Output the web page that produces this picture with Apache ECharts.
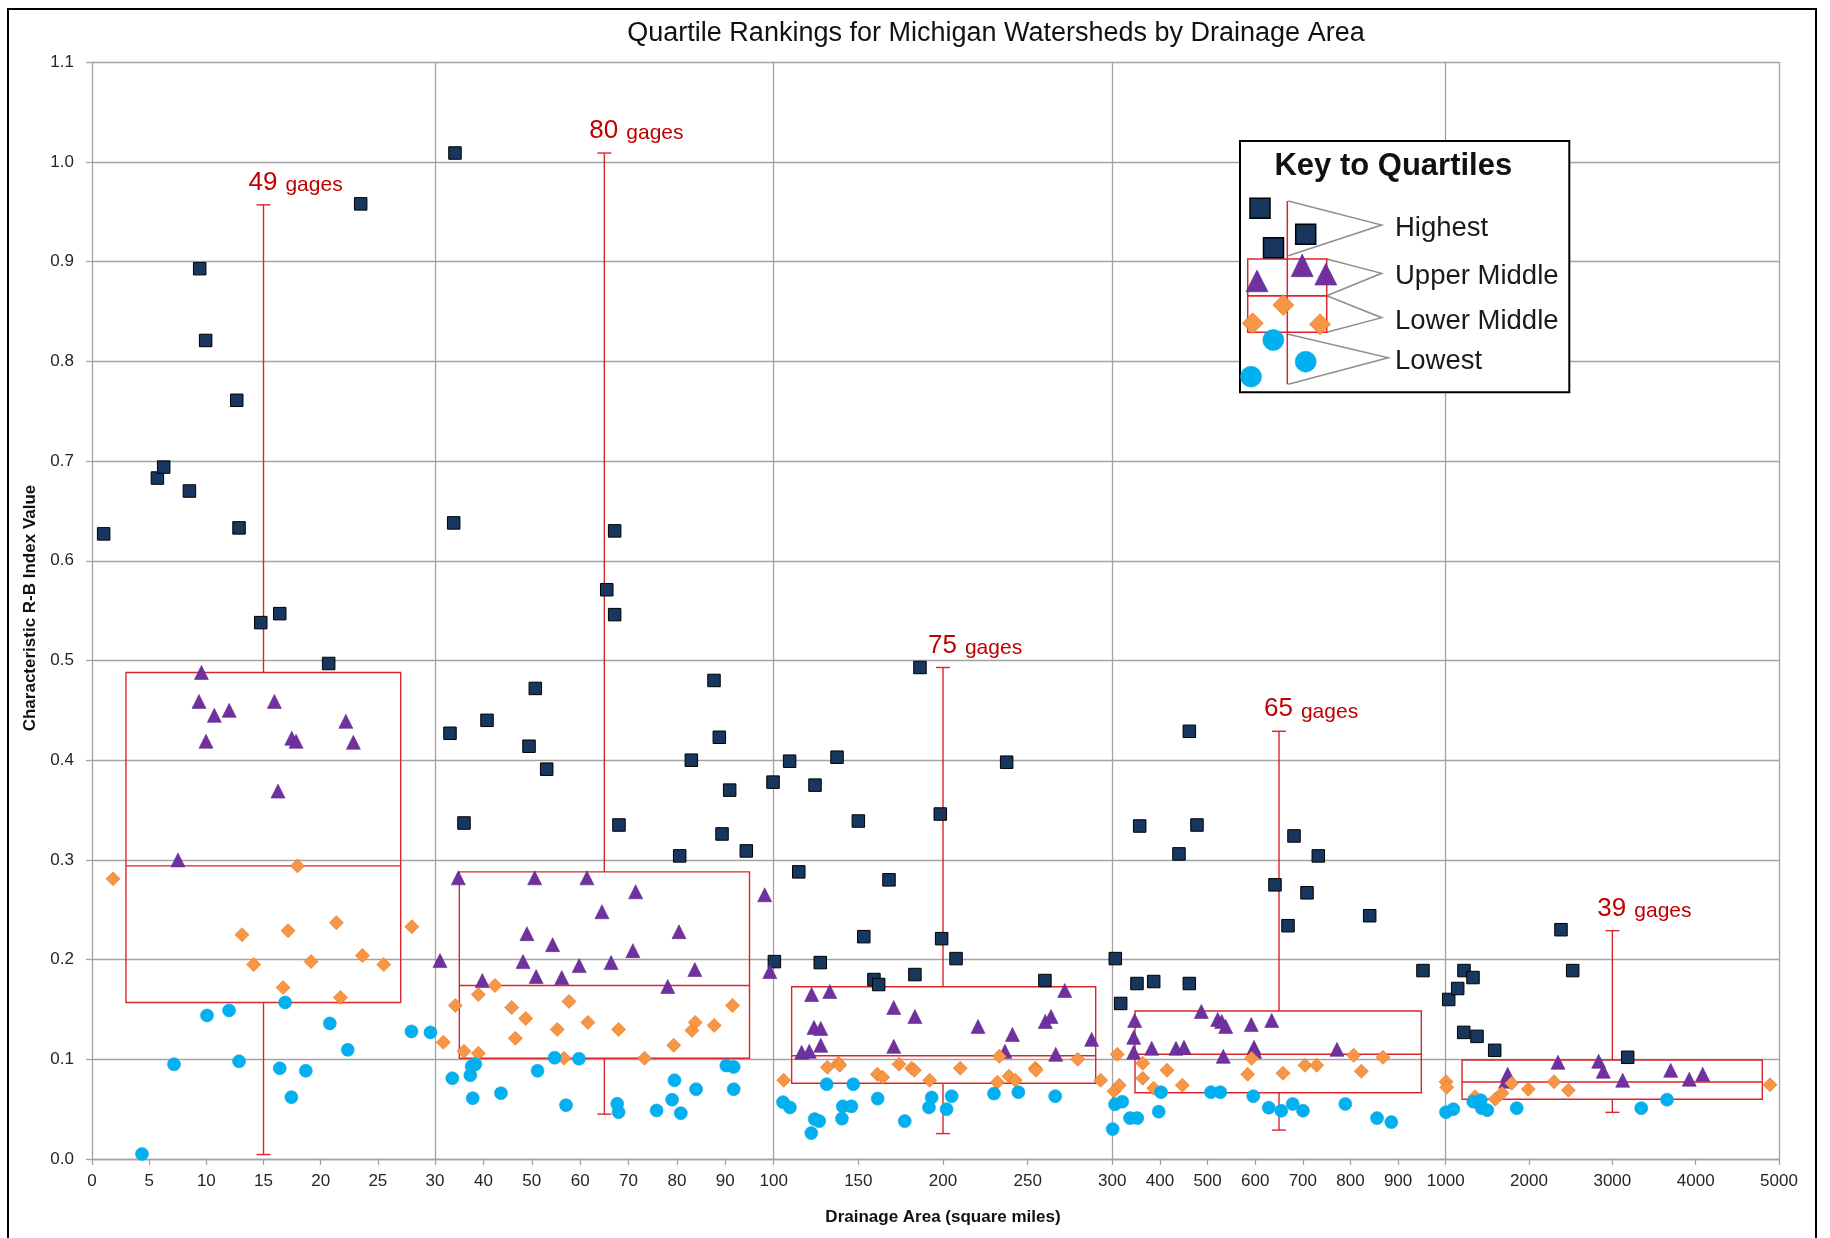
<!DOCTYPE html>
<html><head><meta charset="utf-8">
<script src="https://cdn.jsdelivr.net/npm/echarts@6/dist/echarts.min.js"></script>
<style>html,body{margin:0;padding:0;background:#fff}#chart{width:1830px;height:1238px}</style>
</head><body><div id="chart"></div>
<script>
// ---- Data (drainage area in square miles, R-B index value) ----
const highest = [
  [1.02,0.627],[5.72,0.683],[6.27,0.694],[8.52,0.670],[9.42,0.893],[9.94,0.821],[12.66,0.761],[12.86,0.633],[14.76,0.538],[16.42,0.547],[20.7,0.497],[23.5,0.958],
  [33.1,0.427],[33.86,0.638],[34.13,1.009],[35.99,0.337],[40.75,0.440],[49.43,0.414],[50.73,0.472],[53.08,0.391],[65.5,0.571],[67.13,0.546],[67.13,0.630],[68.02,0.335],[80.57,0.304],[82.98,0.400],[87.66,0.480],[88.76,0.423],[89.32,0.326],[90.9,0.370],[94.34,0.309],[99.86,0.378],
  [100.4,0.198],[109.4,0.399],[114.8,0.288],[124.4,0.375],[127.5,0.197],[137.4,0.403],[150.0,0.339],[153.2,0.223],[159.2,0.180],[162.0,0.175],[168.1,0.280],[183.4,0.185],[186.4,0.493],[198.4,0.346],[199.2,0.221],[207.7,0.201],[237.6,0.398],[260.2,0.179],
  [306.3,0.201],[317.6,0.156],[351.8,0.176],[357.5,0.334],[386.9,0.178],[440,0.306],[461.7,0.429],[461.7,0.176],[477.8,0.335],[641.6,0.275],[668.9,0.234],[681.5,0.324],[708.8,0.267],[732.5,0.304],[840.4,0.244],[952.3,0.189],
  [1036,0.160],[1144,0.171],[1216,0.127],[1219.6,0.189],[1327.6,0.182],[1375.6,0.123],[1588,0.109],[2383.6,0.230],[2524,0.189],[3184,0.102]
];
const upperMiddle = [
  [7.52,0.300],[9.36,0.459],[9.57,0.488],[9.97,0.419],[10.7,0.445],[12.0,0.450],[15.95,0.459],[16.27,0.369],[17.47,0.422],[17.85,0.419],[22.2,0.439],[22.86,0.418],
  [31.03,0.199],[34.82,0.282],[39.78,0.179],[48.2,0.198],[49.0,0.226],[50.6,0.282],[50.9,0.183],[54.3,0.215],[56.2,0.182],[59.8,0.194],[61.4,0.282],[64.5,0.248],[66.4,0.197],[70.9,0.209],[71.47,0.268],[78.1,0.173],[80.43,0.228],[83.7,0.190],[98.14,0.265],[99.2,0.188],
  [116.5,0.107],[121.0,0.108],[122.4,0.165],[123.8,0.132],[127.8,0.131],[127.8,0.114],[133.1,0.168],[170.9,0.152],[170.9,0.113],[183.4,0.143],[220.7,0.133],[236.6,0.108],[241.0,0.125],[260.4,0.138],[263.8,0.143],[266.6,0.105],[271.9,0.169],[287.8,0.120],
  [344.9,0.122],[344.9,0.107],[347.0,0.139],[382.7,0.111],[433.7,0.111],[450.5,0.112],[486.9,0.148],[521.3,0.140],[529.7,0.138],[533.0,0.103],[538.1,0.133],[591.8,0.135],[597.5,0.112],[599.0,0.108],[634.7,0.139],[771.8,0.110],
  [1720,0.078],[1744,0.085],[2347.6,0.097],[2836,0.098],[2891,0.088],[3124,0.079],[3700,0.089],[3923,0.080],[4084,0.085]
];
const lowerMiddle = [
  [1.84,0.281],[13.12,0.225],[14.14,0.195],[16.71,0.172],[17.15,0.229],[17.97,0.294],[19.16,0.198],[21.38,0.237],[21.73,0.162],[23.65,0.204],[25.52,0.195],[27.97,0.233],
  [31.72,0.117],[34.2,0.154],[35.99,0.108],[38.95,0.165],[38.95,0.106],[42.4,0.174],[45.85,0.152],[46.6,0.121],[48.74,0.141],[55.26,0.130],[56.66,0.101],[57.7,0.158],[61.6,0.137],[67.94,0.130],[73.3,0.101],[79.34,0.114],[83.1,0.129],[83.77,0.137],[87.7,0.134],[91.5,0.154],
  [105.9,0.079],[131.7,0.092],[138.2,0.096],[139.0,0.094],[161.2,0.085],[164.4,0.082],[174.0,0.095],[181.5,0.091],[183.1,0.089],[192.1,0.079],[210.2,0.091],[232.1,0.077],[233.3,0.103],[239.0,0.083],[242.7,0.079],[254.5,0.091],[254.9,0.089],[279.6,0.100],[293.1,0.079],
  [303.6,0.068],[310.5,0.105],[314.7,0.074],[363.8,0.096],[363.8,0.081],[386.9,0.071],[414.8,0.089],[447.0,0.074],[584.3,0.085],[592.6,0.101],[658.4,0.086],[704.6,0.094],[729.1,0.094],[806.8,0.104],[822.8,0.088],[868.4,0.102],
  [1004,0.0775],[1012,0.072],[1352,0.0625],[1595,0.060],[1676,0.066],[1792,0.076],[1991,0.070],[2300,0.0775],[2472,0.069],[4892,0.0745]
];
const lowest = [
  [4.37,0.005],[7.17,0.095],[10.06,0.144],[11.99,0.149],[12.86,0.098],[16.42,0.091],[16.89,0.157],[17.44,0.062],[18.7,0.0885],[20.8,0.136],[22.37,0.1095],[27.94,0.128],[29.6,0.127],
  [33.58,0.081],[37.3,0.084],[37.58,0.093],[37.8,0.061],[38.33,0.095],[43.64,0.066],[51.2,0.0885],[54.73,0.1016],[57.08,0.054],[59.75,0.1006],[67.66,0.0554],[67.94,0.047],[75.8,0.0487],[79.0,0.0595],[79.5,0.079],[80.8,0.046],[83.96,0.070],[90.2,0.0937],[91.73,0.0923],[91.73,0.070],
  [105.5,0.057],[109.6,0.0517],[122.2,0.026],[124.2,0.040],[126.9,0.038],[131.3,0.075],[140.3,0.0405],[140.8,0.0528],[145.9,0.0528],[147.0,0.075],[161.4,0.0606],[177.4,0.038],[191.7,0.0517],[193.3,0.0617],[202.1,0.050],[205.1,0.063],[230.1,0.0656],[244.5,0.067],[266.3,0.063],
  [300.8,0.030],[305.7,0.0548],[321.0,0.0575],[337.2,0.041],[352.5,0.041],[397.4,0.0475],[402.2,0.067],[507.2,0.067],[526.8,0.067],[596.0,0.063],[628.4,0.0515],[654.8,0.0484],[678.8,0.0552],[700.4,0.0484],[789.2,0.0552],[855.8,0.041],[885.8,0.037],
  [1004,0.047],[1091,0.050],[1331,0.0575],[1420,0.059],[1432,0.051],[1499,0.049],[1852,0.051],[3347,0.051],[3656,0.0595]
];
// x-axis segments (each drawn as its own linear scale)
const segMin = [0, 30, 100, 300, 1000];
const segMax = [30, 100, 300, 1000, 5000];
const segInterval = [5, 10, 50, 100, 1000];
// group summaries (boxes & whiskers)
const boxLeft   = [2.97, 35.03, 110.6, 347.7, 1196];
const boxRight  = [27.0, 95.0, 290.2, 948.8, 4799];
const boxQ1     = [0.157, 0.101, 0.076, 0.0665, 0.060];
const boxMedian = [0.294, 0.174, 0.1036, 0.105, 0.0772];
const boxQ3     = [0.488, 0.288, 0.1727, 0.1484, 0.0993];
const whiskerX   = [15, 65, 200, 650, 3000];
const whiskerMin = [0.0045, 0.045, 0.0255, 0.029, 0.0468];
const whiskerMax = [0.957, 1.009, 0.493, 0.429, 0.229];
const gageCounts = [49, 80, 75, 65, 39];
const quartileNames = ['Highest', 'Upper Middle', 'Lower Middle', 'Lowest'];

// ---- Layout / style ----
const gridLeft  = [92, 435, 773.7, 1112.3, 1445.7];
const gridRight = [435, 773.7, 1112.3, 1445.7, 1779];
const AXIS = '#a3a3a3', LABEL = '#262626', RED = '#D9262B', REDTXT = '#C00000';
const FONT = "'Liberation Sans', Arial, sans-serif";
const styles = [
  {symbol:'rect', size:12.5, color:'#17375E', border:'#000000', bw:1},
  {symbol:'triangle', size:14, color:'#7030A0', border:'#5e2889', bw:0.6},
  {symbol:'diamond', size:14, color:'#F79646', border:'#E46C0A', bw:0.6},
  {symbol:'circle', size:13, color:'#00B0F0', border:'#12a4de', bw:0.6}
];
const quartileData = [highest, upperMiddle, lowerMiddle, lowest];

function segOf(x){ for (let i=0;i<5;i++){ if (x < segMax[i]) return i; } return 4; }

const grids=[], xAxes=[], yAxes=[], series=[];
for (let i=0;i<5;i++){
  grids.push({left:gridLeft[i], width:gridRight[i]-gridLeft[i], top:62.3, height:1096.7});
  xAxes.push({gridIndex:i, type:'value', min:segMin[i], max:segMax[i], interval:segInterval[i],
    axisLine:{show:true, onZero:false, lineStyle:{color:AXIS, width:1.3}},
    axisTick:{show:true, length:6, lineStyle:{color:AXIS, width:1.3}},
    axisLabel:{show:true, showMinLabel:i===0, showMaxLabel:true, margin:14, color:LABEL, fontSize:17, fontFamily:FONT, formatter:v=>String(v)},
    splitLine:{show:false}});
  yAxes.push({gridIndex:i, type:'value', min:0, max:1.1, interval:0.1,
    axisLine:{show:true, lineStyle:{color:AXIS, width:1.3}},
    axisTick:{show:i===0, length:6, lineStyle:{color:AXIS, width:1.3}},
    axisLabel:{show:i===0, margin:18, color:LABEL, fontSize:17, fontFamily:FONT, formatter:v=>v.toFixed(1)},
    splitLine:{show:true, lineStyle:{color:AXIS, width:1.3}}});
}
yAxes.push({gridIndex:4, type:'value', min:0, max:1.1, interval:0.1, position:'right',
  axisLine:{show:true, lineStyle:{color:AXIS, width:1.3}}, axisTick:{show:false}, axisLabel:{show:false}, splitLine:{show:false}});

for (let i=0;i<5;i++){
  series.push({
    type:'custom', xAxisIndex:i, yAxisIndex:i, z:2, clip:false, silent:true,
    data:[[boxLeft[i], boxRight[i], boxQ1[i], boxMedian[i], boxQ3[i], whiskerX[i], whiskerMin[i], whiskerMax[i], gageCounts[i]]],
    renderItem:function(params, api){
      const l=api.value(0), r=api.value(1), q1=api.value(2), md=api.value(3), q3=api.value(4);
      const wx=api.value(5), wmin=api.value(6), wmax=api.value(7), n=api.value(8);
      const tl=api.coord([l,q3]), br=api.coord([r,q1]);
      const mL=api.coord([l,md]), mR=api.coord([r,md]);
      const wT=api.coord([wx,wmax]), wQ3=api.coord([wx,q3]), wQ1=api.coord([wx,q1]), wB=api.coord([wx,wmin]);
      const ls={stroke:RED, lineWidth:1.4, fill:null};
      return {type:'group', children:[
        {type:'rect', shape:{x:tl[0], y:tl[1], width:br[0]-tl[0], height:br[1]-tl[1]}, style:{stroke:RED, lineWidth:1.4, fill:'rgba(0,0,0,0)'}},
        {type:'line', shape:{x1:mL[0], y1:mL[1], x2:mR[0], y2:mR[1]}, style:ls},
        {type:'line', shape:{x1:wT[0], y1:wT[1], x2:wQ3[0], y2:wQ3[1]}, style:ls},
        {type:'line', shape:{x1:wQ1[0], y1:wQ1[1], x2:wB[0], y2:wB[1]}, style:ls},
        {type:'line', shape:{x1:wT[0]-7, y1:wT[1], x2:wT[0]+7, y2:wT[1]}, style:ls},
        {type:'line', shape:{x1:wB[0]-7, y1:wB[1], x2:wB[0]+7, y2:wB[1]}, style:ls},
        {type:'text', x:wT[0]-15, y:wT[1]-9, style:{
          text:'{n|'+n+'}{g|gages}', align:'left', verticalAlign:'bottom',
          rich:{n:{fontSize:26, fill:REDTXT, fontFamily:FONT, verticalAlign:'bottom', padding:[0,8,0,0]},
                g:{fontSize:21, fill:REDTXT, fontFamily:FONT, verticalAlign:'bottom'}}}}
      ]};
    }
  });
  for (let q=0;q<4;q++){
    const st=styles[q];
    series.push({
      type:'scatter', name:quartileNames[q], xAxisIndex:i, yAxisIndex:i, z:3+q,
      symbol:st.symbol, symbolSize:st.size,
      itemStyle:{color:st.color, borderColor:st.border, borderWidth:st.bw, opacity:1},
      emphasis:{disabled:true}, silent:true,
      data:quartileData[q].filter(p=>segOf(p[0])===i)
    });
  }
}

// ---- legend ("Key to Quartiles") drawn as graphic ----
const G = [];
let z2 = 1;
function add(el){ el.z = 100; el.z2 = z2++; G.push(el); }
add({type:'rect', shape:{x:1240, y:141, width:329.3, height:251.3}, style:{fill:'#fff', stroke:'#000', lineWidth:2}});
add({type:'text', x:1393.3, y:166, style:{text:'Key to Quartiles', font:"bold 31px "+FONT, fill:'#111', align:'center', verticalAlign:'middle'}});
const GRAY = '#8f8f8f';
[[[1288.3,201],[1381.7,225],[1288.3,255.7]],
 [[1326.7,259],[1381.7,273.3],[1326.7,295.7]],
 [[1326.7,295.7],[1381.7,317.7],[1326.7,332.3]],
 [[1288.3,334.3],[1388.3,357.7],[1288.3,384.3]]].forEach(p=>add({type:'polyline', shape:{points:p}, style:{stroke:GRAY, lineWidth:1.5, fill:null}}));
add({type:'rect', shape:{x:1247.7, y:259, width:79, height:36.7}, style:{stroke:RED, lineWidth:1.5, fill:null}});
add({type:'rect', shape:{x:1247.7, y:295.7, width:79, height:36.6}, style:{stroke:RED, lineWidth:1.5, fill:null}});
add({type:'line', shape:{x1:1287.3, y1:201, x2:1287.3, y2:384.3}, style:{stroke:RED, lineWidth:1.5}});
[[1260,208.3],[1273.5,247.7],[1305.7,234.3]].forEach(c=>add({type:'rect', shape:{x:c[0]-10, y:c[1]-10, width:20, height:20}, style:{fill:'#17375E', stroke:'#000', lineWidth:1.5}}));
[[1257,270,291.7],[1302.2,254,276.7],[1325.8,263.3,285]].forEach(t=>add({type:'polygon', shape:{points:[[t[0],t[1]],[t[0]+11,t[2]],[t[0]-11,t[2]]]}, style:{fill:'#7030A0', stroke:'#5e2889', lineWidth:0.6}}));
[[1252.7,323.3],[1283.3,305],[1320,324.3]].forEach(c=>add({type:'polygon', shape:{points:[[c[0],c[1]-10.5],[c[0]+10.5,c[1]],[c[0],c[1]+10.5],[c[0]-10.5,c[1]]]}, style:{fill:'#F79646', stroke:'#E46C0A', lineWidth:0.6}}));
[[1273.3,340],[1305.7,361.7],[1251,376.7]].forEach(c=>add({type:'circle', shape:{cx:c[0], cy:c[1], r:10.5}, style:{fill:'#00B0F0', stroke:'#12a4de', lineWidth:0.6}}));
[[quartileNames[0],228],[quartileNames[1],276.3],[quartileNames[2],321],[quartileNames[3],361]].forEach(t=>add({type:'text', x:1395, y:t[1], style:{text:t[0], font:"27.5px "+FONT, fill:'#1a1a1a', align:'left', verticalAlign:'middle'}}));

// titles, frame
add({type:'text', x:996, y:34, style:{text:'Quartile Rankings for Michigan Watersheds by Drainage Area', font:"27px "+FONT, fill:'#111', align:'center', verticalAlign:'middle'}});
add({type:'text', x:943, y:1217, style:{text:'Drainage Area (square miles)', font:"bold 17px "+FONT, fill:'#111', align:'center', verticalAlign:'middle'}});
add({type:'text', x:30, y:608, rotation:Math.PI/2, style:{text:'Characteristic R-B Index Value', font:"bold 17px "+FONT, fill:'#111', align:'center', verticalAlign:'middle'}});
add({type:'rect', shape:{x:8, y:9, width:1808, height:1260}, style:{fill:null, stroke:'#000', lineWidth:2}});

const chart = echarts.init(document.getElementById('chart'));
chart.setOption({
  animation:false,
  backgroundColor:'#ffffff',
  grid:grids, xAxis:xAxes, yAxis:yAxes, series:series,
  graphic:{elements:G}
});
</script>
</body></html>
